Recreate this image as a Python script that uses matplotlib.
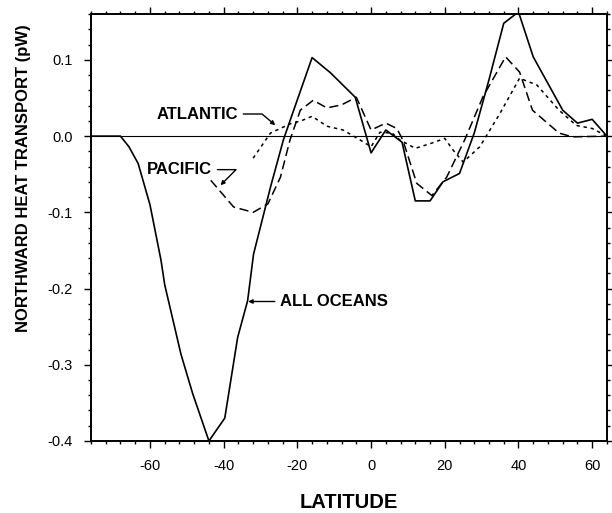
import numpy as np
import matplotlib
matplotlib.use("Agg")
import matplotlib.pyplot as plt

plt.rcParams['font.family'] = ['Liberation Sans', 'DejaVu Sans']
plt.rcParams['axes.unicode_minus'] = False

# All oceans (solid)
all_lat = [-76, -68, -65.7, -63.2, -60, -57, -56, -51.6, -48.4, -44, -39.7, -36.2,
           -33.5, -31.9, -27.3, -23.8, -21, -16, -11, -4.3, 0, 4, 8.4, 12, 16,
           19.5, 24, 28, 32, 36, 40, 44, 52, 56, 60, 64]
all_val = [0, 0, -0.014, -0.036, -0.09, -0.163, -0.195, -0.286, -0.338, -0.40,
           -0.37, -0.264, -0.216, -0.155, -0.067, -0.005, 0.034, 0.103, 0.083,
           0.051, -0.022, 0.008, -0.008, -0.085, -0.085, -0.06, -0.049, 0.004,
           0.074, 0.148, 0.163, 0.104, 0.034, 0.017, 0.022, 0.0]

# Pacific (dashed)
pac_lat = [-43.5, -37.3, -32, -28, -24.6, -22, -19.2, -15.7, -12, -8, -4, 0, 4,
           7, 8.6, 12.4, 16.5, 20.5, 25.4, 30.3, 36.5, 40.3, 43.8, 51, 54.6, 64]
pac_val = [-0.058, -0.093, -0.100, -0.089, -0.054, -0.005, 0.034, 0.047, 0.037,
           0.041, 0.051, 0.008, 0.017, 0.010, -0.005, -0.062, -0.078, -0.054,
           -0.005, 0.051, 0.104, 0.084, 0.034, 0.004, -0.001, 0.0]

# Atlantic (dotted)
atl_lat = [-32, -27.3, -22, -19, -16, -12, -7.6, -3, 0, 2.4, 5.7, 7.8, 12, 16,
           20, 22.2, 25, 29.5, 35, 40.3, 45, 51, 55.7, 60, 64]
atl_val = [-0.029, 0.004, 0.016, 0.020, 0.026, 0.013, 0.008, -0.005, -0.014,
           0.005, 0.004, -0.005, -0.016, -0.010, -0.003, -0.018, -0.034, -0.014,
           0.030, 0.076, 0.067, 0.034, 0.014, 0.010, 0.0]

fig = plt.figure(figsize=(6.12, 5.13), dpi=100)
ax = fig.add_axes([0.1487, 0.1404, 0.843, 0.832])

ax.axhline(0, color='black', lw=0.8)
ax.plot(all_lat, all_val, color='black', lw=1.2)
ax.plot(pac_lat, pac_val, color='black', lw=1.1, dashes=(6, 3))
ax.plot(atl_lat, atl_val, color='black', lw=1.1, dashes=(2.2, 2.5))

ax.set_xlim(-76, 64)
ax.set_ylim(-0.4, 0.16)
ax.set_xticks([-60, -40, -20, 0, 20, 40, 60])
ax.set_xticks(np.arange(-76, 65, 4), minor=True)
ax.set_yticks([-0.4, -0.3, -0.2, -0.1, 0.0, 0.1])
ax.set_yticklabels(['-0.4', '-0.3', '-0.2', '-0.1', '0.0', '0.1'])
ax.set_yticks(np.arange(-0.4, 0.161, 0.02), minor=True)

ax.tick_params(which='both', direction='out', top=True, right=True,
               width=1.0, labelsize=10.5)
ax.tick_params(which='major', length=5, pad=8)
ax.tick_params(which='minor', length=2.5)
for s in ax.spines.values():
    s.set_linewidth(1.4)

ax.set_xlabel('LATITUDE', fontsize=14.5, fontweight='bold', va='center')
ax.xaxis.set_label_coords(0.5, -0.143)
ax.set_ylabel('NORTHWARD HEAT TRANSPORT (pW)', fontsize=12, fontweight='bold',
              va='center')
ax.yaxis.set_label_coords(-0.13, 0.616)

ann = dict(fontsize=12, fontweight='bold', va='center')
ax.annotate('ATLANTIC', xy=(-25.4, 0.012), xytext=(-36.2, 0.029), ha='right',
            arrowprops=dict(arrowstyle='-|>', color='black', lw=1.0,
                            mutation_scale=6, relpos=(1, 0.5),
                            connectionstyle='angle,angleA=0,angleB=140,rad=0'),
            **ann)
ax.annotate('PACIFIC', xy=(-41.4, -0.067), xytext=(-43.2, -0.044), ha='right',
            arrowprops=dict(arrowstyle='-|>', color='black', lw=1.0,
                            mutation_scale=6, relpos=(1, 0.5),
                            connectionstyle='angle,angleA=0,angleB=45,rad=0'),
            **ann)
ax.annotate('ALL OCEANS', xy=(-34.1, -0.217), xytext=(-24.6, -0.217), ha='left',
            arrowprops=dict(arrowstyle='-|>', color='black', lw=1.0,
                            mutation_scale=6, relpos=(0, 0.5)),
            **ann)

fig.savefig('out.png', dpi=100)
